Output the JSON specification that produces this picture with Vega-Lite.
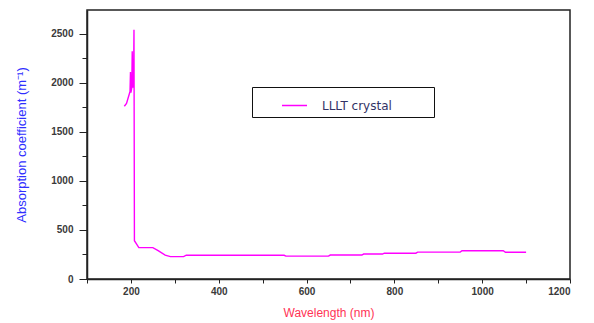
{
  "$schema": "https://vega.github.io/schema/vega-lite/v6.json",
  "width": 483,
  "height": 269,
  "autosize": {"type": "none"},
  "padding": {"left": 87, "top": 10, "right": 24, "bottom": 44},
  "background": "white",
  "config": {
    "font": "Liberation Sans",
    "view": {"stroke": "#222222", "strokeWidth": 1.5},
    "axis": {
      "grid": false,
      "domainColor": "#222222",
      "domainWidth": 1.5,
      "tickColor": "#222222",
      "labelFont": "Liberation Sans",
      "labelFontSize": 10,
      "labelFontWeight": "bold",
      "labelColor": "#3a3a3a",
      "titleFont": "Liberation Sans",
      "titleFontWeight": "normal"
    }
  },
  "data": {
    "values": [
      {"wavelength": 185, "absorption": 1760, "series": "LLLT crystal"},
      {"wavelength": 190, "absorption": 1790, "series": "LLLT crystal"},
      {"wavelength": 196, "absorption": 1880, "series": "LLLT crystal"},
      {"wavelength": 198, "absorption": 1910, "series": "LLLT crystal"},
      {"wavelength": 199, "absorption": 2110, "series": "LLLT crystal"},
      {"wavelength": 200, "absorption": 1900, "series": "LLLT crystal"},
      {"wavelength": 202, "absorption": 1950, "series": "LLLT crystal"},
      {"wavelength": 203, "absorption": 2320, "series": "LLLT crystal"},
      {"wavelength": 204, "absorption": 1950, "series": "LLLT crystal"},
      {"wavelength": 206, "absorption": 2000, "series": "LLLT crystal"},
      {"wavelength": 207, "absorption": 2540, "series": "LLLT crystal"},
      {"wavelength": 208, "absorption": 390, "series": "LLLT crystal"},
      {"wavelength": 213, "absorption": 355, "series": "LLLT crystal"},
      {"wavelength": 218, "absorption": 320, "series": "LLLT crystal"},
      {"wavelength": 250, "absorption": 320, "series": "LLLT crystal"},
      {"wavelength": 262, "absorption": 290, "series": "LLLT crystal"},
      {"wavelength": 278, "absorption": 243, "series": "LLLT crystal"},
      {"wavelength": 290, "absorption": 228, "series": "LLLT crystal"},
      {"wavelength": 320, "absorption": 228, "series": "LLLT crystal"},
      {"wavelength": 326, "absorption": 242, "series": "LLLT crystal"},
      {"wavelength": 549, "absorption": 242, "series": "LLLT crystal"},
      {"wavelength": 553, "absorption": 233, "series": "LLLT crystal"},
      {"wavelength": 650, "absorption": 233, "series": "LLLT crystal"},
      {"wavelength": 654, "absorption": 244, "series": "LLLT crystal"},
      {"wavelength": 726, "absorption": 244, "series": "LLLT crystal"},
      {"wavelength": 730, "absorption": 254, "series": "LLLT crystal"},
      {"wavelength": 773, "absorption": 254, "series": "LLLT crystal"},
      {"wavelength": 777, "absorption": 263, "series": "LLLT crystal"},
      {"wavelength": 849, "absorption": 263, "series": "LLLT crystal"},
      {"wavelength": 853, "absorption": 274, "series": "LLLT crystal"},
      {"wavelength": 950, "absorption": 274, "series": "LLLT crystal"},
      {"wavelength": 954, "absorption": 288, "series": "LLLT crystal"},
      {"wavelength": 1048, "absorption": 288, "series": "LLLT crystal"},
      {"wavelength": 1053, "absorption": 273, "series": "LLLT crystal"},
      {"wavelength": 1100, "absorption": 273, "series": "LLLT crystal"}
    ]
  },
  "mark": {"type": "line", "strokeWidth": 1.4, "interpolate": "linear"},
  "encoding": {
    "x": {
      "field": "wavelength",
      "type": "quantitative",
      "scale": {"domain": [100, 1200], "nice": false, "zero": false},
      "axis": {
        "title": "Wavelength (nm)",
        "titleColor": "#ff3355",
        "titleFontSize": 12,
        "titlePadding": 11,
        "values": [100, 200, 300, 400, 500, 600, 700, 800, 900, 1000, 1100, 1200],
        "labelExpr": "datum.value % 200 == 0 ? datum.label : ''",
        "format": "d",
        "tickSize": 4,
        "labelPadding": 3
      }
    },
    "y": {
      "field": "absorption",
      "type": "quantitative",
      "scale": {"domain": [0, 2741], "nice": false},
      "axis": {
        "title": "Absorption coefficient (m⁻¹)",
        "titleColor": "#2f2fff",
        "titleFontSize": 13,
        "titlePadding": 22,
        "values": [0, 250, 500, 750, 1000, 1250, 1500, 1750, 2000, 2250, 2500],
        "labelExpr": "datum.value % 500 == 0 ? datum.label : ''",
        "format": "d",
        "tickSize": {"condition": {"test": "datum.value % 500 == 0", "value": 8}, "value": 5},
        "labelPadding": 6
      }
    },
    "color": {
      "field": "series",
      "type": "nominal",
      "scale": {"range": ["#ff00ff"]},
      "legend": {
        "title": "\u00a0",
        "titleOrient": "right",
        "titlePadding": 37,
        "titleFontSize": 6,
        "orient": "none",
        "legendX": 165,
        "legendY": 77,
        "padding": 5,
        "strokeColor": "#111111",
        "fillColor": "white",
        "symbolType": "stroke",
        "symbolSize": 625,
        "symbolStrokeWidth": 1.5,
        "symbolOffset": 24,
        "labelFont": "DejaVu Sans",
        "labelFontSize": 12,
        "labelColor": "#333366",
        "labelOffset": 14
      }
    }
  }
}
